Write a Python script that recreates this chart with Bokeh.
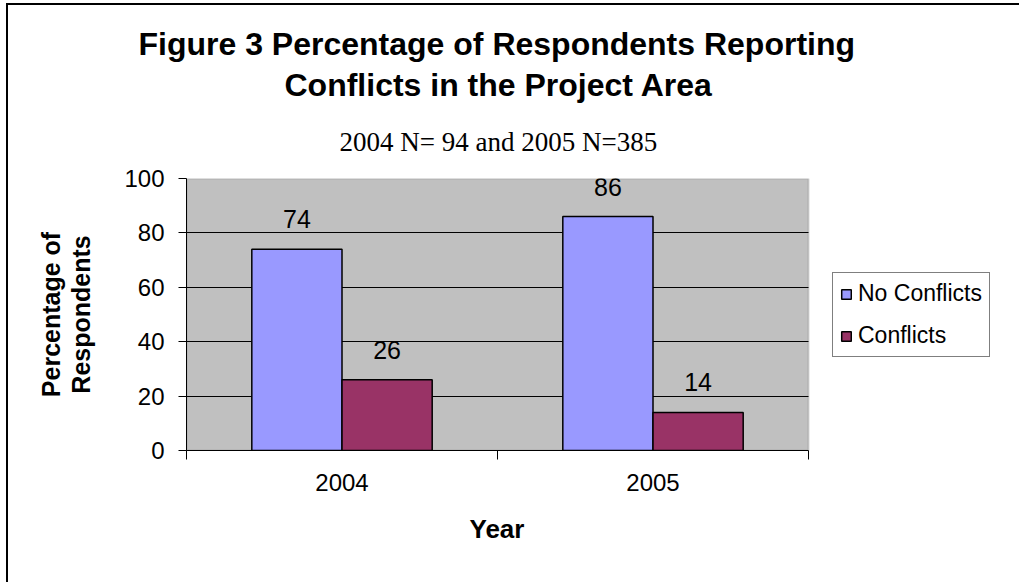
from bokeh.plotting import figure
from bokeh.models import (ColumnDataSource, Range1d, LinearAxis, Title, BoxAnnotation,
                          FixedTicker, LabelSet, Legend, LegendItem)
from bokeh.transform import dodge
from bokeh.core.properties import value
from bokeh.embed import file_html
from bokeh.resources import INLINE

# ---- data ----
years = ["2004", "2005"]
no_conflicts = [74, 86]
conflicts = [26, 14]
series_names = ["No Conflicts", "Conflicts"]
y_ticks = [0, 20, 40, 60, 80, 100]
title_lines = ["Figure 3 Percentage of Respondents Reporting", "Conflicts in the Project Area"]
subtitle = "2004 N= 94 and 2005 N=385"
x_title = "Year"
y_title = "Percentage of\nRespondents"

SANS = "Liberation Sans"
SERIF = "Liberation Serif"

# category slots: category i occupies [i, i+1] on the x scale
n = len(years)
centers = [i + 0.5 for i in range(n)]
bounds = list(range(n + 1))

src = ColumnDataSource(dict(
    xc=centers,
    nc=no_conflicts,
    c=conflicts,
    nc_txt=[str(v) for v in no_conflicts],
    c_txt=[str(v) for v in conflicts],
))

# layout (canvas pixels)
W, H = 1013, 579
FL, PR = 178, 800          # frame left, plot-area right
x_end = n * (W - FL) / (PR - FL)

p = figure(width=W, height=H, output_backend="svg", toolbar_location=None,
           x_range=Range1d(0, x_end), y_range=Range1d(y_ticks[0], y_ticks[-1]),
           x_axis_location=None, y_axis_location="left",
           min_border_left=FL, min_border_right=0, min_border_top=173, min_border_bottom=134)
p.styles = {"border-left": "2px solid black", "border-top": "2px solid black",
            "margin-left": "6px", "margin-top": "3px"}

p.background_fill_color = "white"
p.border_fill_color = "white"
p.outline_line_color = None

# grey plot area
p.add_layout(BoxAnnotation(left=0, right=n, fill_color="#C0C0C0", fill_alpha=1,
                           line_color="#808080", line_width=2, level="image"))

p.xgrid.grid_line_color = None
p.ygrid.grid_line_color = "black"
p.ygrid.grid_line_width = 1
p.ygrid.ticker = FixedTicker(ticks=y_ticks)
p.ygrid.cross_bounds = (0, n)

# titles (first added sits nearest the frame); left-aligned, offset from frame left
p.add_layout(Title(text=subtitle, align="left", offset=153, text_font=SERIF, text_font_size="27px",
                   text_font_style="normal", text_color="black", standoff=44), "above")
p.add_layout(Title(text=title_lines[1], align="left", offset=98, text_font=SANS, text_font_size="32px",
                   text_font_style="bold", text_color="black", standoff=0), "above")
p.add_layout(Title(text=title_lines[0], align="left", offset=-48, text_font=SANS, text_font_size="32px",
                   text_font_style="bold", text_color="black", standoff=5), "above")

# y axis
ya = p.yaxis[0]
ya.ticker = FixedTicker(ticks=y_ticks)
ya.minor_tick_line_color = None
ya.major_tick_in = 0
ya.major_tick_out = 8
ya.major_tick_line_color = "black"
ya.axis_line_color = "black"
ya.major_label_text_font = SANS
ya.major_label_text_font_size = "24px"
ya.major_label_text_color = "black"
ya.major_label_standoff = 14
ya.axis_label = y_title
ya.axis_label_text_font = SANS
ya.axis_label_text_font_style = "bold"
ya.axis_label_text_font_size = "25px"
ya.axis_label_text_color = "black"
ya.axis_label_standoff = 26
ya.axis_label_text_line_height = 1.1

# x axis: boundary ticks
xt = LinearAxis(ticker=FixedTicker(ticks=bounds), bounds=(0, n))
xt.major_label_overrides = {b: "" for b in bounds}
xt.major_label_text_font_size = "1px"
xt.major_label_standoff = 0
xt.major_tick_in = 0
xt.major_tick_out = 9
xt.minor_tick_line_color = None
xt.axis_line_color = "black"
xt.major_tick_line_color = "black"
p.add_layout(xt, "below")

# x axis: category labels
xl = LinearAxis(ticker=FixedTicker(ticks=centers), bounds=(0, n))
xl.major_label_overrides = {c: y for c, y in zip(centers, years)}
xl.axis_line_color = None
xl.major_tick_line_color = None
xl.minor_tick_line_color = None
xl.major_tick_out = 0
xl.major_tick_in = 0
xl.major_label_text_font = SANS
xl.major_label_text_font_size = "24px"
xl.major_label_text_color = "black"
xl.major_label_standoff = 14
p.add_layout(xl, "below")

# x-axis title, centred under the grey plot area
p.add_layout(Title(text=x_title, align="left", offset=283, text_font=SANS, text_font_size="26px",
                   text_font_style="bold", text_color="black", standoff=36), "below")

bw = 0.29
r1 = p.vbar(x=dodge("xc", -bw / 2), top="nc", width=bw, source=src,
            fill_color="#9999FF", line_color="black", line_width=1.5)
r2 = p.vbar(x=dodge("xc", bw / 2), top="c", width=bw, source=src,
            fill_color="#993366", line_color="black", line_width=1.5)

for col, txt, dx in (("nc", "nc_txt", -bw / 2), ("c", "c_txt", bw / 2)):
    p.add_layout(LabelSet(x=dodge("xc", dx), y=col, text=txt, source=src,
                          y_offset=21, text_align="center", text_baseline="alphabetic",
                          text_font=value(SANS), text_font_size="25px", text_color="black"))

legend = Legend(items=[LegendItem(label=series_names[0], renderers=[r1]),
                       LegendItem(label=series_names[1], renderers=[r2])],
                location=(PR - FL + 24, 93))
legend.border_line_color = "black"
legend.border_line_width = 1
legend.background_fill_color = "white"
legend.background_fill_alpha = 1
legend.label_text_font = SANS
legend.label_text_font_size = "23px"
legend.label_text_color = "black"
legend.glyph_width = 12
legend.glyph_height = 12
legend.label_standoff = 6
legend.padding = 7
legend.spacing = 15
legend.margin = 0
p.add_layout(legend)

open("out.html", "w").write(file_html(p, INLINE))
